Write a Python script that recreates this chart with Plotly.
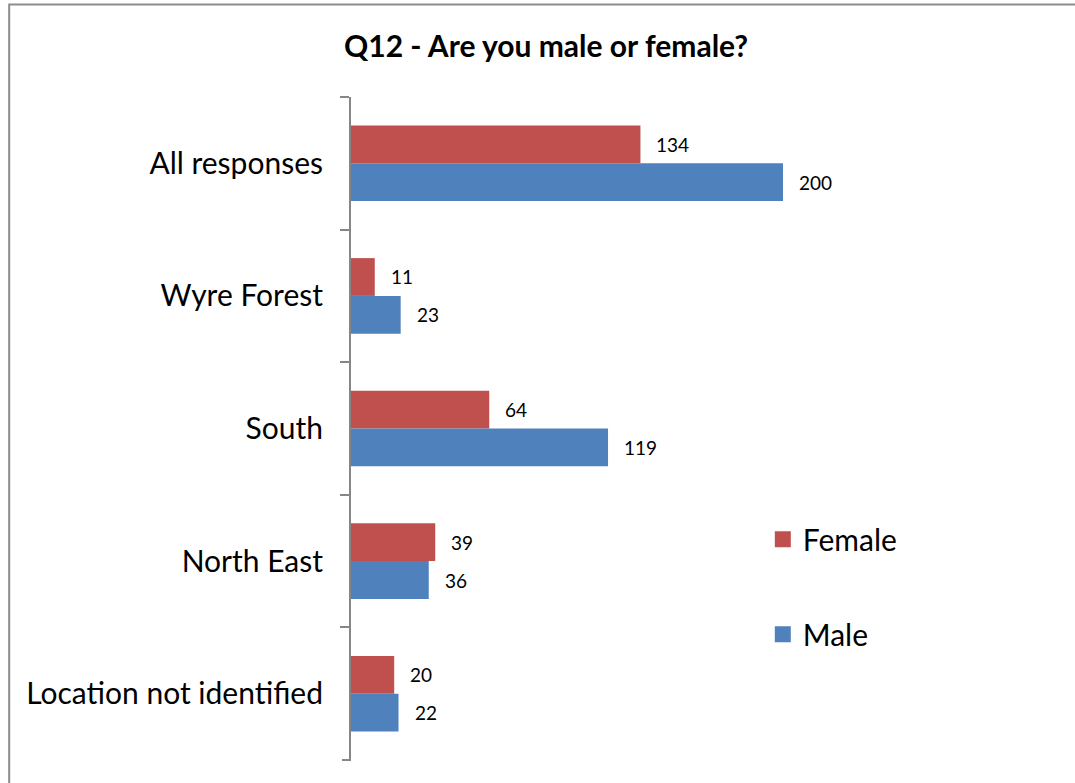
import plotly.graph_objects as go

categories = ["All responses", "Wyre Forest", "South", "North East", "Location not identified"]
female = [134, 11, 64, 39, 20]
male = [200, 23, 119, 36, 22]

RED = "#C0504D"
BLUE = "#4F81BD"
GREY = "#868686"
FONT = "Lato, 'Open Sans', sans-serif"

fig = go.Figure()
fig.add_trace(go.Bar(y=categories, x=female, orientation="h", name="Female",
                     marker=dict(color=RED, line=dict(width=0)), showlegend=False))
fig.add_trace(go.Bar(y=categories, x=male, orientation="h", name="Male",
                     marker=dict(color=BLUE, line=dict(width=0)), showlegend=False))

# legend entries with bigger square swatches
for name, color in [("Female", RED), ("Male", BLUE)]:
    fig.add_trace(go.Scatter(x=[None], y=[None], mode="markers", name=name, legendgroup=name,
                             marker=dict(symbol="square", size=17, color=color)))

# value labels, offset to the right of each bar
for vals, shift in [(female, 19), (male, -19)]:
    for cat, v in zip(categories, vals):
        fig.add_annotation(x=v, y=cat, text=str(v), showarrow=False, xanchor="left",
                           xshift=14, yshift=shift, font=dict(size=19, color="black"))

# outer frame
fig.add_shape(type="rect", xref="paper", yref="paper", x0=-0.633, x1=1.5, y0=-0.2, y1=1.1395,
              line=dict(color="#8c8c8c", width=2), fillcolor="rgba(0,0,0,0)", layer="below")
# closing tick at the bottom of the category axis
fig.add_shape(type="line", xref="paper", yref="paper", x0=-0.0167, x1=0, y0=0, y1=0,
              line=dict(color=GREY, width=2))

fig.update_layout(
    width=1075,
    height=783,
    margin=dict(l=351, r=184, t=97, b=23),
    paper_bgcolor="white",
    plot_bgcolor="white",
    font=dict(family=FONT, color="black"),
    title=dict(text="<b>Q12 - Are you male or female?</b>", x=0.508, xanchor="center",
               y=0.94, yanchor="middle", font=dict(size=30, color="black")),
    barmode="group",
    bargap=0.43,
    bargroupgap=0,
    showlegend=True,
    legend=dict(x=0.7626, y=0.372, xanchor="left", yanchor="top", tracegroupgap=53,
                font=dict(size=30), bgcolor="rgba(0,0,0,0)", itemwidth=30),
    xaxis=dict(range=[0, 250], showgrid=False, zeroline=False, showticklabels=False,
               showline=False, ticks=""),
    yaxis=dict(categoryorder="array", categoryarray=categories, range=[4.5, -0.5],
               showgrid=False, zeroline=False, showline=True, linecolor=GREY, linewidth=2,
               ticks="outside", tickson="boundaries", ticklen=9, tickwidth=2, tickcolor=GREY,
               ticklabelstandoff=20, tickfont=dict(size=30, color="black")),
)

fig.write_html("out.html", config={"displayModeBar": False},
               post_script="document.body.style.margin='0';")
